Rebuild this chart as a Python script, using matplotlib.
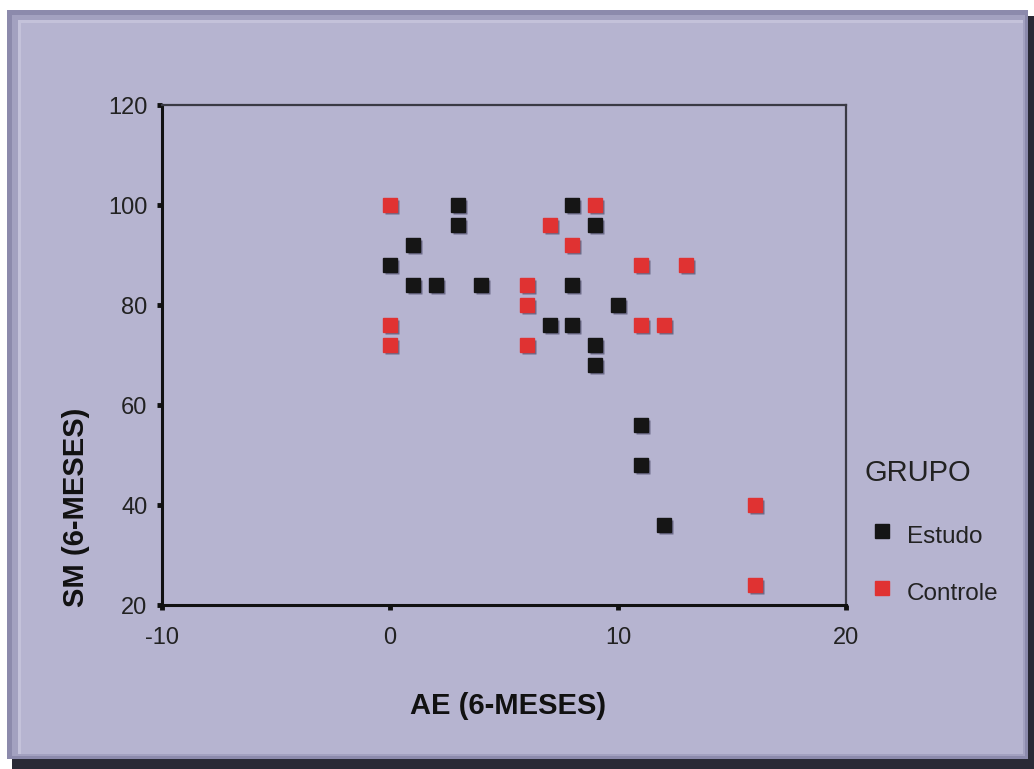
import numpy as np
import matplotlib
matplotlib.use('Agg')
import matplotlib.pyplot as plt
import matplotlib.transforms as mtransforms
from matplotlib.patches import Rectangle
from matplotlib.lines import Line2D

plt.rcParams['font.family'] = ['Liberation Sans', 'DejaVu Sans']
plt.rcParams['axes.unicode_minus'] = False

# data
estudo_ae = [0, 1, 1, 2, 3, 3, 4, 7, 8, 8, 8, 9, 9, 9, 10, 11, 11, 12]
estudo_sm = [88, 92, 84, 84, 100, 96, 84, 76, 100, 84, 76, 96, 72, 68, 80, 56, 48, 36]
controle_ae = [0, 0, 0, 6, 6, 6, 7, 8, 9, 11, 11, 12, 13, 16, 16]
controle_sm = [100, 76, 72, 84, 80, 72, 96, 92, 100, 88, 76, 76, 88, 40, 24]

x_ticks = [-10, 0, 10, 20]
y_ticks = [20, 40, 60, 80, 100, 120]

W, H = 1034, 769
panel = '#b6b4d0'
fig = plt.figure(figsize=(W / 100, H / 100), dpi=100, facecolor='white')

def px_rect(x0, y0, x1, y1, color, z):
    # rectangle given in pixel coords (top-left origin)
    fig.add_artist(Rectangle((x0 / W, 1 - y1 / H), (x1 - x0) / W, (y1 - y0) / H,
                             transform=fig.transFigure, facecolor=color,
                             edgecolor='none', zorder=z))

# frame with drop shadow and bevel
px_rect(12, 16, W, H, '#2a2a36', -10)
px_rect(7, 10, 1028, 759, '#8c8aac', -9)
px_rect(12, 15, 1025, 756, '#a3a1c0', -8)
px_rect(18, 20, 1023, 754, '#c4c2da', -7)
px_rect(21, 23, 1023, 754, panel, -6)

ax = fig.add_axes([162 / W, 1 - 605 / H, 684 / W, 500 / H])
ax.set_facecolor('none')
ax.set_xlim(-10, 20)
ax.set_ylim(20, 120)
ax.set_xticks(x_ticks)
ax.set_yticks(y_ticks)
ax.tick_params(direction='out', length=3.5, width=3.5, color='#111111',
               labelsize=17, labelcolor='#222222', pad=7)
ax.tick_params(axis='x', pad=12)
for s in ['left', 'bottom']:
    ax.spines[s].set_linewidth(2.2)
    ax.spines[s].set_color('#111111')
for s in ['top', 'right']:
    ax.spines[s].set_linewidth(1.6)
    ax.spines[s].set_color('#3a3a44')

shadow = mtransforms.offset_copy(ax.transData, fig=fig, x=1.5, y=-1.5, units='points')
for xs, ys in [(estudo_ae, estudo_sm), (controle_ae, controle_sm)]:
    ax.plot(xs, ys, 's', ms=10, color='#6c6a88', mec='none', transform=shadow,
            clip_on=False, zorder=2)
ax.plot(estudo_ae, estudo_sm, 's', ms=10, color='#151515', mec='#151515',
        clip_on=False, zorder=3)
ax.plot(controle_ae, controle_sm, 's', ms=10, color='#e03232', mec='#e03232',
        clip_on=False, zorder=3)

# axis titles
fig.text(508 / W, 1 - 706 / H, 'AE (6-MESES)', ha='center', va='center',
         fontsize=21, fontweight='bold', color='#111111')
fig.text(76 / W, 1 - 507 / H, 'SM (6-MESES)', ha='center', va='center',
         rotation=90, fontsize=21, fontweight='bold', color='#111111')

# legend
fig.text(864 / W, 1 - 473 / H, 'GRUPO', ha='left', va='center', fontsize=21,
         color='#222222')
for yy, col, lab in [(531, '#151515', 'Estudo'), (588, '#e03232', 'Controle')]:
    fig.add_artist(Line2D([882 / W], [1 - yy / H], marker='s', ms=10, color=col,
                          mec=col, transform=fig.transFigure))
    fig.text(907 / W, 1 - (yy + 6) / H, lab, ha='left', va='center', fontsize=17.5,
             color='#222222')

fig.savefig('out.png', dpi=100, facecolor=fig.get_facecolor())
